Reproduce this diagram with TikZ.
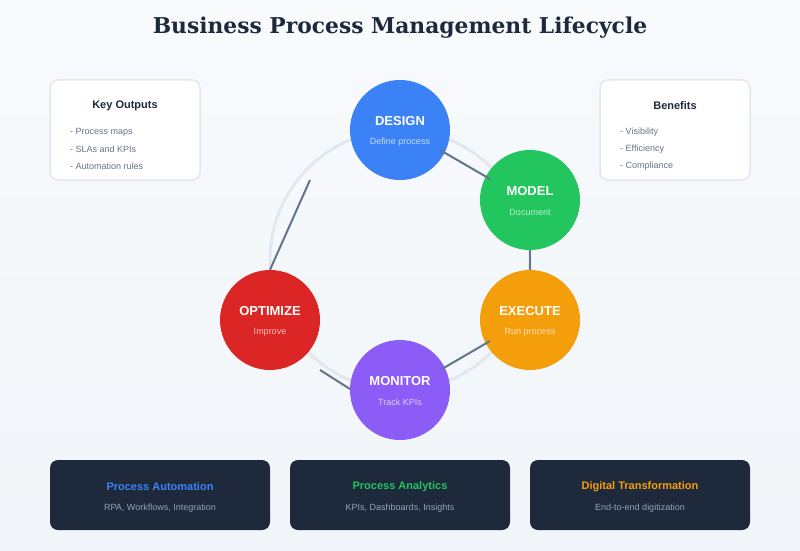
\documentclass[tikz,border=0pt]{standalone}
\usepackage{fontspec}
\setmainfont{Liberation Sans}
\newfontfamily\titlefont{DejaVu Serif}
\usetikzlibrary{positioning, calc}

\definecolor{bgtop}{HTML}{F8FAFC}
\definecolor{bgbot}{HTML}{F1F5F9}
\definecolor{ringgray}{HTML}{E2E8F0}
\definecolor{slate}{HTML}{64748B}
\definecolor{navy}{HTML}{1E293B}
\definecolor{softgray}{HTML}{94A3B8}
\definecolor{designblue}{HTML}{3B82F6}
\definecolor{modelgreen}{HTML}{22C55E}
\definecolor{execorange}{HTML}{F59E0B}
\definecolor{monpurple}{HTML}{8B5CF6}
\definecolor{optred}{HTML}{DC2626}

\begin{document}
\begin{tikzpicture}[x=1pt, y=1pt,
    phase/.style={circle, fill=#1, minimum size=100pt, inner sep=0pt},
    phasename/.style={text=white, font=\fontsize{13}{15}\selectfont\bfseries},
    phasesub/.style={text=white, text opacity=0.7, font=\fontsize{9}{11}\selectfont},
    link/.style={draw=slate, line width=2pt},
    sidebox/.style={draw=ringgray, line width=1.5pt, fill=white, rounded corners=8pt,
        minimum width=150pt, minimum height=100pt},
    sidehead/.style={text=navy, font=\fontsize{11}{13}\selectfont\bfseries},
    sideitem/.style={text=slate, font=\fontsize{9}{11}\selectfont, anchor=west, inner sep=0pt},
    areabox/.style={fill=navy, rounded corners=8pt, minimum width=220pt, minimum height=70pt},
    areahead/.style={text=#1, font=\fontsize{11}{13}\selectfont\bfseries},
    areasub/.style={text=softgray, font=\fontsize{9}{11}\selectfont}]

    % --- Background ---
    \shade[top color=bgtop, bottom color=bgbot] (0,0) rectangle (800,550);
    \useasboundingbox (0,0) rectangle (800,550);

    % --- Title ---
    \node[text=navy, font=\titlefont\fontsize{21.8}{26}\selectfont\bfseries] (title) at (400,522)
        {Business Process Management Lifecycle};

    % --- Cycle ring ---
    \coordinate (hub) at (400,290);
    \draw[ringgray, line width=3pt] (hub) circle (130);

    % --- Phases ---
    \node[phase=designblue] (design)  at (400,420) {};
    \node[phase=modelgreen] (model)   at (530,350) {};
    \node[phase=execorange] (execute) at (530,230) {};
    \node[phase=monpurple]  (monitor) at (400,160) {};
    \node[phase=optred]     (optimize) at (270,230) {};

    \foreach \ph/\name/\sub in {design/DESIGN/Define process, model/MODEL/Document,
        execute/EXECUTE/Run process, monitor/MONITOR/Track KPIs, optimize/OPTIMIZE/Improve} {
        \node[phasename] (\ph-name) at ([yshift=9pt]\ph.center) {\name};
        \node[phasesub]  (\ph-sub)  at ([yshift=-12pt]\ph.center) {\sub};
    }

    % --- Connectors between phases ---
    \draw[link] ([shift={(40,-20)}]design.center) -- ([shift={(-40,21)}]model.center);
    \draw[link] (model.south) -- (execute.north);
    \draw[link] ([shift={(-40,-21)}]execute.center) -- ([shift={(42,21)}]monitor.center);
    \draw[link] ([shift={(-50,1)}]monitor.center) -- ([shift={(50,-50)}]optimize.center);
    \draw[link] (optimize.north) -- ([shift={(-90,-50)}]design.center);

    % --- Key Outputs box ---
    \node[sidebox] (outputs) at (125,420) {};
    \node[sidehead] (outputs-head) at ([yshift=24pt]outputs.center) {Key Outputs};
    \node[sideitem] (out1) at (70,418) {- Process maps};
    \node[sideitem] (out2) at (70,401) {- SLAs and KPIs};
    \node[sideitem] (out3) at (70,384) {- Automation rules};

    % --- Benefits box ---
    \node[sidebox] (benefits) at (675,420) {};
    \node[sidehead] (benefits-head) at ([yshift=24pt]benefits.center) {Benefits};
    \node[sideitem] (ben1) at (620,418) {- Visibility};
    \node[sideitem] (ben2) at (620,401) {- Efficiency};
    \node[sideitem] (ben3) at (620,384) {- Compliance};

    % --- Bottom areas ---
    \node[areabox] (automation) at (160,55) {};
    \node[areabox] (analytics)  at (400,55) {};
    \node[areabox] (digital)    at (640,55) {};

    \node[areahead=designblue] at ([yshift=8pt]automation.center) {Process Automation};
    \node[areasub]             at ([yshift=-13pt]automation.center) {RPA, Workflows, Integration};
    \node[areahead=modelgreen] at ([yshift=8pt]analytics.center) {Process Analytics};
    \node[areasub]             at ([yshift=-13pt]analytics.center) {KPIs, Dashboards, Insights};
    \node[areahead=execorange] at ([yshift=8pt]digital.center) {Digital Transformation};
    \node[areasub]             at ([yshift=-13pt]digital.center) {End-to-end digitization};

\end{tikzpicture}
\end{document}
